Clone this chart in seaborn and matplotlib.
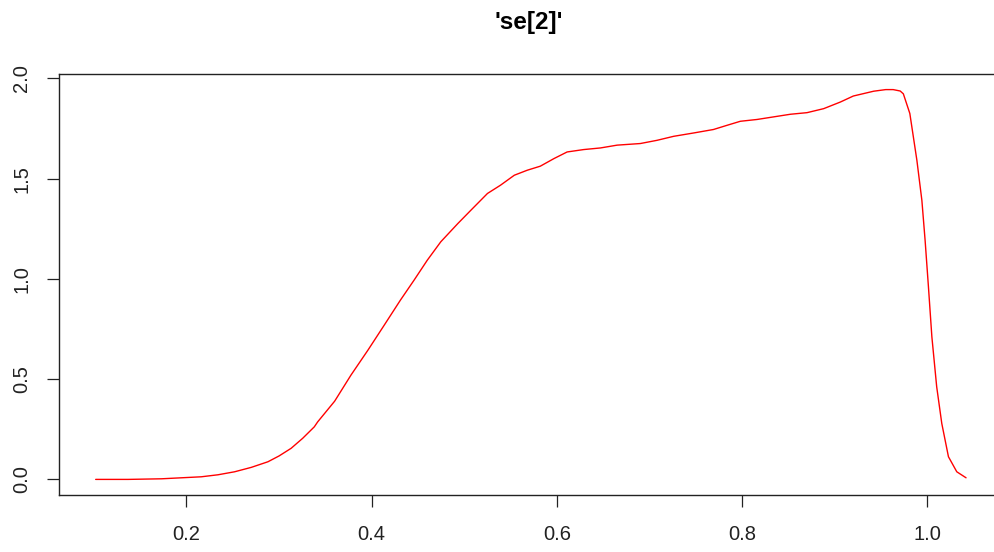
import matplotlib
matplotlib.use("Agg")
import matplotlib.pyplot as plt
import seaborn as sns
import pandas as pd

# Data
x_vals = [0.102, 0.137, 0.173, 0.216, 0.234, 0.252, 0.270, 0.288, 0.300, 0.313,
          0.3255, 0.338, 0.3417, 0.360, 0.3776, 0.396, 0.4135, 0.431, 0.4458,
          0.460, 0.4746, 0.493, 0.507, 0.525, 0.539, 0.554, 0.568, 0.582, 0.5968,
          0.611, 0.629, 0.647, 0.665, 0.690, 0.708, 0.726, 0.748, 0.769, 0.7837,
          0.798, 0.816, 0.834, 0.852, 0.870, 0.888, 0.906, 0.920, 0.931, 0.942,
          0.955, 0.963, 0.9706, 0.974, 0.981, 0.9886, 0.994, 0.9975, 1.0011,
          1.0048, 1.010, 1.0155, 1.0227, 1.0317, 1.0417]
y_vals = [0.000, 0.000, 0.003, 0.013, 0.023, 0.038, 0.060, 0.088, 0.117, 0.155,
          0.205, 0.262, 0.287, 0.390, 0.520, 0.645, 0.769, 0.894, 0.994,
          1.093, 1.185, 1.276, 1.342, 1.426, 1.467, 1.517, 1.542, 1.562, 1.600,
          1.633, 1.645, 1.653, 1.667, 1.675, 1.691, 1.711, 1.728, 1.745, 1.766,
          1.786, 1.795, 1.808, 1.821, 1.829, 1.849, 1.882, 1.912, 1.924, 1.936,
          1.944, 1.944, 1.937, 1.923, 1.825, 1.592, 1.392, 1.192, 0.960,
          0.711, 0.462, 0.279, 0.113, 0.038, 0.008]
x_ticks = [0.2, 0.4, 0.6, 0.8, 1.0]
y_ticks = [0.0, 0.5, 1.0, 1.5, 2.0]
title = "'se[2]'"

df = pd.DataFrame({"x": x_vals, "y": y_vals})

sns.set_theme(style="ticks")
plt.rcParams["font.family"] = ["Liberation Sans", "DejaVu Sans"]

W, H = 995, 552
fig = plt.figure(figsize=(W / 100, H / 100), dpi=100)
left, right, top, bottom = 59, 999.3, 74, 495
ax = fig.add_axes([left / W, 1 - bottom / H, (right - left) / W, (bottom - top) / H])

sns.lineplot(data=df, x="x", y="y", ax=ax, color="#FF0000", linewidth=1.0,
             sort=False, estimator=None)

ax.set_xlim(0.0624, 1.0776)
ax.set_ylim(-0.0778, 2.0218)
ax.set_xticks(x_ticks)
ax.set_xticklabels([f"{v:.1f}" for v in x_ticks])
ax.set_yticks(y_ticks)
ax.set_yticklabels([f"{v:.1f}" for v in y_ticks], rotation=90, va="center")
ax.set_xlabel("")
ax.set_ylabel("")
for s in ax.spines.values():
    s.set_visible(True)
    s.set_color("#222222")
    s.set_linewidth(1.0)
ax.tick_params(axis="both", direction="out", length=8.6, width=0.9,
               color="#222222", labelsize=14.5, labelcolor="#222222")
ax.tick_params(axis="x", pad=13)
ax.tick_params(axis="y", pad=11.5)

fig.text((left + right) / 2 / W, 1 - 22 / H, title, ha="center", va="center",
         fontsize=17.5, fontweight="bold", color="black")

fig.savefig("out.png", dpi=100)
